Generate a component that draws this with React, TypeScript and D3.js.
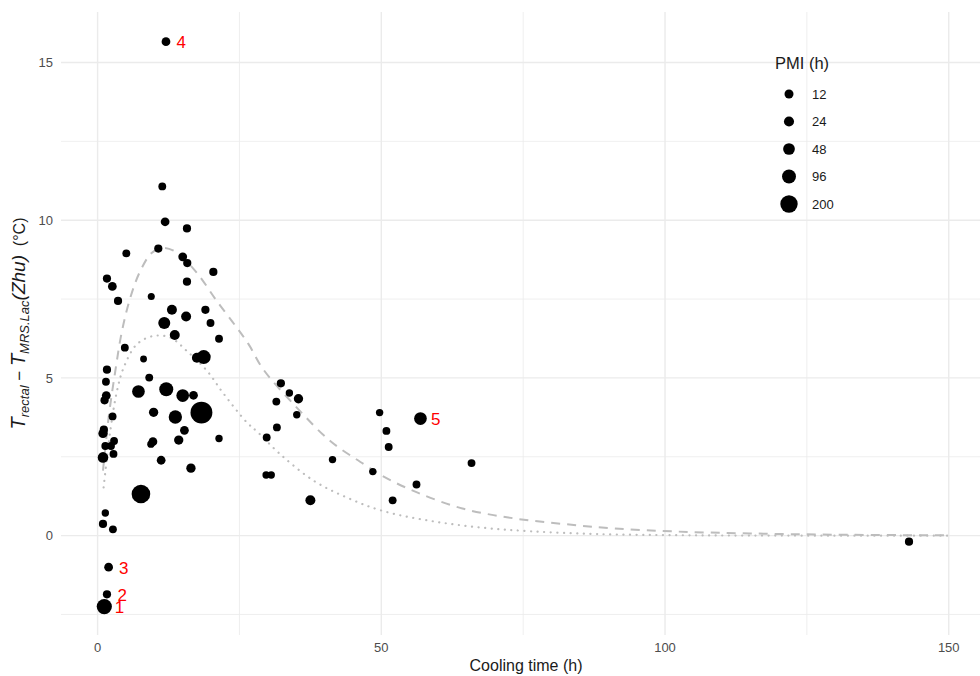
import React, { useRef, useEffect } from 'react';
import * as d3 from 'd3';

// Cooling time (h), temperature difference (°C), PMI (h) per case
const coolingTime = [
  11.4, 11.9, 15.75, 5.06, 10.7, 15.0, 15.8, 20.4, 1.65, 2.6, 15.75, 3.6, 9.46, 13.1, 19.0,
  11.75, 15.6, 19.9, 13.6, 21.4, 4.8, 8.1, 17.5, 18.7, 1.65, 9.1, 1.47, 7.2, 12.1, 15.0,
  16.9, 1.53, 1.23, 18.3, 9.87, 13.7, 2.64, 15.3, 1.1, 0.95, 21.4, 2.9, 9.75, 9.4, 14.3,
  1.36, 2.36, 2.8, 0.95, 11.2, 16.45, 7.64, 1.36, 0.95, 2.7, 32.3, 33.8, 35.4, 31.5, 35.1,
  31.6, 29.8, 29.7, 30.6, 37.5, 41.4, 48.5, 49.7, 50.9, 51.3, 52.0, 56.2, 65.9, 143.0,
];
const deltaT = [
  11.07, 9.95, 9.74, 8.95, 9.1, 8.84, 8.64, 8.36, 8.15, 7.9, 8.05, 7.44, 7.58, 7.16, 7.16,
  6.74, 6.95, 6.74, 6.36, 6.24, 5.96, 5.6, 5.64, 5.66, 5.26, 5.01, 4.88, 4.57, 4.64, 4.44,
  4.45, 4.44, 4.29, 3.9, 3.91, 3.76, 3.78, 3.34, 3.36, 3.24, 3.08, 3.0, 2.98, 2.9, 3.03,
  2.84, 2.84, 2.59, 2.48, 2.39, 2.14, 1.32, 0.72, 0.37, 0.2, 4.83, 4.52, 4.34, 4.25, 3.83,
  3.43, 3.11, 1.92, 1.92, 1.12, 2.41, 2.03, 3.9, 3.32, 2.81, 1.12, 1.62, 2.3, -0.19,
];
const pmi = [
  4, 10, 6, 4, 6, 10, 6, 6, 6, 10, 6, 6, 1, 22, 6,
  53, 22, 4, 22, 4, 4, 0.5, 22, 97, 6, 4, 4, 67, 97, 67,
  10, 10, 6, 400, 15, 81, 4, 10, 6, 15, 2, 4, 10, 2, 15,
  4, 4, 4, 30, 10, 15, 250, 2, 6, 4, 6, 2, 15, 4, 2,
  4, 4, 2, 2, 22, 2, 2, 2, 4, 4, 4, 4, 4, 6,
];

// Labelled cases
const caseName = ['1', '2', '3', '4', '5'];
const caseTime = [1.18, 1.65, 1.94, 12.05, 56.9];
const caseDelta = [-2.25, -1.86, -1.0, 15.66, 3.71];
const casePmi = [130, 6, 10, 10, 67];

// Model curves
const dashTime = [0.95, 1.94, 3.12, 4.3, 5.76, 7.52, 9.58, 11.6, 14, 17.5, 21, 24.3, 26.6, 29.2, 35.1, 41, 46.9, 50.1, 56.3, 64.5, 73.3, 82.1, 90.9, 102, 115, 130, 150];
const dashValue = [2.06, 3.74, 5.22, 6.49, 7.54, 8.39, 8.97, 9.12, 8.97, 8.33, 7.44, 6.65, 6.07, 5.27, 4.06, 3.0, 2.27, 1.9, 1.37, 0.85, 0.55, 0.37, 0.23, 0.13, 0.07, 0.03, 0.01];
const dotTime = [1.06, 2.24, 3.42, 4.6, 6.94, 9.87, 12.8, 15.75, 19.3, 22.2, 26.3, 28.1, 32.2, 38.1, 43.9, 50.1, 58.6, 67.4, 76.2, 88, 105, 125, 150];
const dotValue = [1.53, 3.32, 4.59, 5.33, 6.07, 6.33, 6.28, 5.85, 5.22, 4.5, 3.59, 3.3, 2.58, 1.74, 1.21, 0.79, 0.47, 0.26, 0.14, 0.05, 0.01, 0.0, 0.0];

// Axis / legend values
const xMajor = [0, 50, 100, 150];
const xMinor = [25, 75, 125];
const yMajor = [0, 5, 10, 15];
const yMinor = [-2.5, 2.5, 7.5, 12.5];
const legendPmi = [12, 24, 48, 96, 200];

const FONT = '"Liberation Sans", Arial, Helvetica, sans-serif';

export default function App() {
  const svgRef = useRef<SVGSVGElement | null>(null);

  useEffect(() => {
    if (!svgRef.current) return;
    const width = 980;
    const height = 676;
    const panel = { left: 61, right: 991, top: 12, bottom: 635 };

    const svg = d3.select(svgRef.current);
    svg.selectAll('*').remove();

    const x = d3.scaleLinear().domain([-6.45, 157.45]).range([panel.left, panel.right]);
    const y = d3.scaleLinear().domain([-3.15, 16.6]).range([panel.bottom, panel.top]);
    // point diameter is linear in sqrt(PMI)
    const r = d3.scaleSqrt().domain([0, 400]).range([3.15, 10.95]);

    svg.append('rect').attr('width', width).attr('height', height).attr('fill', '#ffffff');

    // Grid
    const grid = svg.append('g');
    xMinor.forEach(v => {
      grid.append('line')
        .attr('x1', x(v)).attr('x2', x(v)).attr('y1', panel.top).attr('y2', panel.bottom)
        .attr('stroke', '#EBEBEB').attr('stroke-width', 0.8);
    });
    yMinor.forEach(v => {
      grid.append('line')
        .attr('x1', panel.left).attr('x2', panel.right).attr('y1', y(v)).attr('y2', y(v))
        .attr('stroke', '#EBEBEB').attr('stroke-width', 0.8);
    });
    xMajor.forEach(v => {
      grid.append('line')
        .attr('x1', x(v)).attr('x2', x(v)).attr('y1', panel.top).attr('y2', panel.bottom)
        .attr('stroke', '#EBEBEB').attr('stroke-width', 1.4);
    });
    yMajor.forEach(v => {
      grid.append('line')
        .attr('x1', panel.left).attr('x2', panel.right).attr('y1', y(v)).attr('y2', y(v))
        .attr('stroke', '#EBEBEB').attr('stroke-width', 1.4);
    });

    // Tick labels
    xMajor.forEach(v => {
      svg.append('text')
        .attr('x', x(v)).attr('y', 652)
        .attr('text-anchor', 'middle')
        .attr('font-family', FONT).attr('font-size', 13).attr('fill', '#4D4D4D')
        .text(v);
    });
    yMajor.forEach(v => {
      svg.append('text')
        .attr('x', 53).attr('y', y(v) + 4.6)
        .attr('text-anchor', 'end')
        .attr('font-family', FONT).attr('font-size', 13).attr('fill', '#4D4D4D')
        .text(v);
    });

    // Curves
    const dashData: [number, number][] = dashTime.map((t, i) => [t, dashValue[i]]);
    const dotData: [number, number][] = dotTime.map((t, i) => [t, dotValue[i]]);
    const line = d3.line<[number, number]>()
      .x(d => x(d[0])).y(d => y(d[1]))
      .curve(d3.curveCatmullRom.alpha(0.5));

    svg.append('path')
      .attr('d', line(dashData))
      .attr('fill', 'none').attr('stroke', '#BDBDBD').attr('stroke-width', 2)
      .attr('stroke-dasharray', '9 7');
    svg.append('path')
      .attr('d', line(dotData))
      .attr('fill', 'none').attr('stroke', '#BDBDBD').attr('stroke-width', 2.2)
      .attr('stroke-linecap', 'round')
      .attr('stroke-dasharray', '0.1 6.5');

    // Points
    const pts = coolingTime.map((t, i) => ({ t, v: deltaT[i], p: pmi[i] }));
    svg.append('g').selectAll('circle')
      .data(pts)
      .enter().append('circle')
      .attr('cx', d => x(d.t)).attr('cy', d => y(d.v))
      .attr('r', d => r(d.p))
      .attr('fill', '#000000');

    const cases = caseName.map((n, i) => ({ n, t: caseTime[i], v: caseDelta[i], p: casePmi[i] }));
    svg.append('g').selectAll('circle')
      .data(cases)
      .enter().append('circle')
      .attr('cx', d => x(d.t)).attr('cy', d => y(d.v))
      .attr('r', d => r(d.p))
      .attr('fill', '#000000');
    svg.append('g').selectAll('text')
      .data(cases)
      .enter().append('text')
      .attr('x', d => x(d.t) + 10.5).attr('y', d => y(d.v) + 6.5)
      .attr('font-family', FONT).attr('font-size', 17).attr('fill', '#FF0000')
      .text(d => d.n);

    // Axis titles
    svg.append('text')
      .attr('x', (panel.left + panel.right) / 2).attr('y', 671)
      .attr('text-anchor', 'middle')
      .attr('font-family', FONT).attr('font-size', 16).attr('fill', '#1A1A1A')
      .text('Cooling time (h)');

    const yt = svg.append('text')
      .attr('transform', `translate(25, ${(panel.top + panel.bottom) / 2}) rotate(-90)`)
      .attr('text-anchor', 'middle')
      .attr('font-family', FONT).attr('fill', '#1A1A1A')
      .attr('xml:space', 'preserve');
    yt.append('tspan').attr('font-size', 20).attr('font-style', 'italic').text('T');
    yt.append('tspan').attr('font-size', 13).attr('font-style', 'italic').attr('dy', 4).text('rectal');
    yt.append('tspan').attr('font-size', 17).attr('dy', -4).text(' \u2212 ');
    yt.append('tspan').attr('font-size', 20).attr('font-style', 'italic').text('T');
    yt.append('tspan').attr('font-size', 13).attr('font-style', 'italic').attr('dy', 4).text('MRS.Lac');
    yt.append('tspan').attr('font-size', 19).attr('font-style', 'italic').attr('dy', -4).text('(Zhu)');
    yt.append('tspan').attr('font-size', 16).text('\u00a0\u00a0(\u00b0C)');

    // Legend
    const lg = svg.append('g');
    lg.append('text')
      .attr('x', 775).attr('y', 69)
      .attr('font-family', FONT).attr('font-size', 16.5).attr('fill', '#1A1A1A')
      .text('PMI (h)');
    legendPmi.forEach((p, i) => {
      const cy = 94 + i * 27.5;
      lg.append('circle').attr('cx', 789).attr('cy', cy).attr('r', r(p)).attr('fill', '#000000');
      lg.append('text')
        .attr('x', 812).attr('y', cy + 4.6)
        .attr('font-family', FONT).attr('font-size', 13).attr('fill', '#1A1A1A')
        .text(p);
    });
  }, []);

  return (
    <div>
      <style>{'body{margin:0}'}</style>
      <svg ref={svgRef} width={980} height={676} style={{ display: 'block' }} />
    </div>
  );
}
